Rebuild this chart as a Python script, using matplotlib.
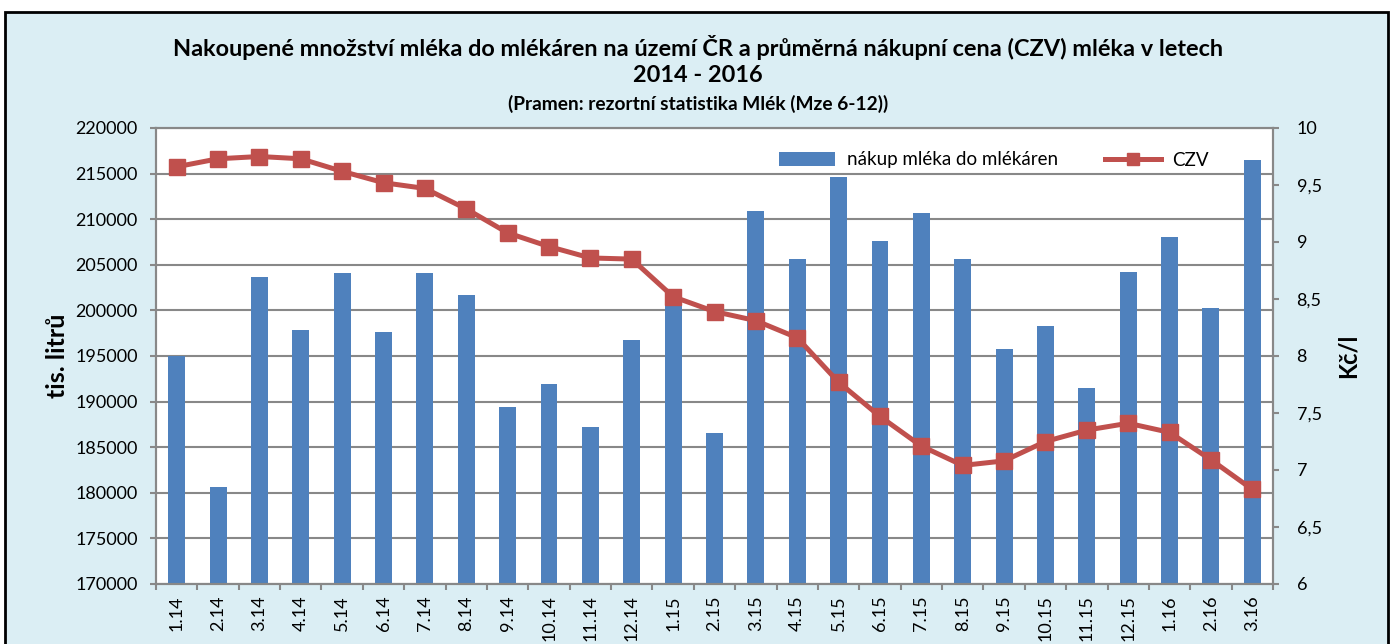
import numpy as np
import matplotlib.pyplot as plt
from matplotlib.patches import Rectangle, Patch
from matplotlib.lines import Line2D
from matplotlib.ticker import FuncFormatter, MultipleLocator

# data
mesice = ['1.14', '2.14', '3.14', '4.14', '5.14', '6.14', '7.14', '8.14', '9.14',
          '10.14', '11.14', '12.14', '1.15', '2.15', '3.15', '4.15', '5.15', '6.15',
          '7.15', '8.15', '9.15', '10.15', '11.15', '12.15', '1.16', '2.16', '3.16']
nakup = [195000, 180600, 203700, 197800, 204150, 197600, 204150, 201700, 189400,
         191900, 187200, 196750, 201300, 186550, 210900, 205600, 214600, 207600,
         210700, 205600, 195750, 198250, 191500, 204200, 208000, 200300, 216450]
czv = [9.66, 9.73, 9.75, 9.73, 9.62, 9.52, 9.47, 9.29, 9.08, 8.96, 8.86, 8.85,
       8.52, 8.39, 8.31, 8.16, 7.77, 7.47, 7.21, 7.04, 7.08, 7.25, 7.35, 7.41,
       7.33, 7.09, 6.83]

modra = '#4F81BD'
cervena = '#C0504D'
seda = '#888888'

plt.rcParams['font.family'] = ['Lato', 'DejaVu Sans']

fig = plt.figure(figsize=(13.94, 6.44), dpi=100)

# light blue chart frame with black border (bottom edge is cut off)
fig.add_artist(Rectangle((5 / 1394, -0.05), 1383 / 1394, 1.05 - 12 / 644,
                         transform=fig.transFigure, facecolor='#DBEEF4',
                         edgecolor='black', linewidth=2, zorder=-5))

ax = fig.add_axes([156 / 1394, 60 / 644, 1117 / 1394, 456 / 644])
ax.set_facecolor('white')
x = np.arange(len(mesice))
ax.bar(x, nakup, width=0.41, color=modra, zorder=2)
ax.set_xlim(-0.5, len(mesice) - 0.5)
ax.set_ylim(170000, 220000)
ax.yaxis.set_major_locator(MultipleLocator(5000))
ax.yaxis.grid(True, color=seda, linewidth=1.5)
ax.set_axisbelow(True)

ax.set_xticks(x)
ax.set_xticklabels(mesice, rotation=90, fontsize=13)
ax.tick_params(axis='x', which='major', length=0, pad=8)
ax.set_xticks(np.arange(-0.5, len(mesice), 1), minor=True)
ax.tick_params(axis='x', which='minor', length=4, width=1.5, color=seda)
ax.tick_params(axis='y', length=4, width=1.5, color=seda, labelsize=13, pad=9)
for s in ax.spines.values():
    s.set_color(seda)
    s.set_linewidth(1.5)

ax.set_ylabel('tis. litrů', fontsize=18, fontweight='bold')
ax.yaxis.set_label_coords(-0.078, 0.5)

ax2 = ax.twinx()
ax2.plot(x, czv, color=cervena, linewidth=3.6, marker='s', markersize=12, zorder=3)
ax2.set_ylim(6, 10)
ax2.yaxis.set_major_locator(MultipleLocator(0.5))
ax2.yaxis.set_major_formatter(FuncFormatter(lambda v, p: ('%g' % v).replace('.', ',')))
ax2.tick_params(axis='y', length=4, width=1.5, color=seda, labelsize=13, pad=13)
for s in ax2.spines.values():
    s.set_color(seda)
    s.set_linewidth(1.5)
ax2.set_ylabel('Kč/l', fontsize=17, fontweight='bold')
ax2.yaxis.set_label_coords(1.057, 0.5)

# legend
handles = [Patch(facecolor=modra), Line2D([], [], color=cervena, lw=3.6, marker='s', markersize=8)]
fig.legend(handles, ['nákup mléka do mlékáren', 'CZV'], ncol=2, frameon=False,
           loc='center', bbox_to_anchor=(994 / 1394, 1 - 160 / 644), fontsize=13.5,
           handlelength=3.0, handleheight=0.7, columnspacing=2.5, handletextpad=0.6)

# titles
fig.text(0.5007, 1 - 47 / 644,
         'Nakoupené množství mléka do mlékáren na území ČR a průměrná nákupní cena (CZV) mléka v letech',
         ha='center', va='center', fontsize=16.9, fontweight='bold')
fig.text(0.5007, 1 - 75 / 644, '2014 - 2016', ha='center', va='center',
         fontsize=16.9, fontweight='bold')
fig.text(0.5007, 1 - 104 / 644, '(Pramen: rezortní statistika Mlék (Mze 6-12))',
         ha='center', va='center', fontsize=13.8, fontweight='bold')

fig.savefig('out.png', dpi=100)
